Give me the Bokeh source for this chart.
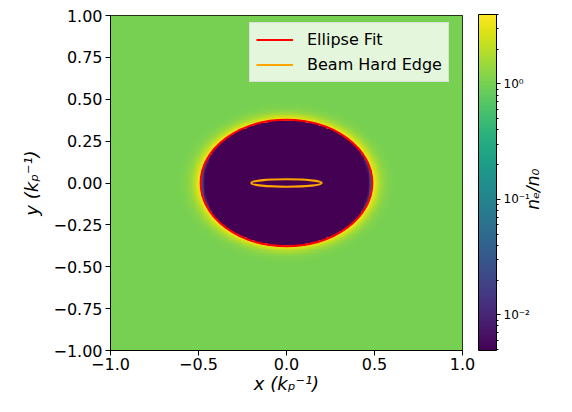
import math
import numpy as np
from bokeh.plotting import figure
from bokeh.models import (Range1d, LogColorMapper, ColorBar, FixedTicker,
                          CustomJSTickFormatter, Legend, LinearAxis)
from bokeh.palettes import Viridis256
from bokeh.embed import file_html
from bokeh.resources import INLINE

# ---------------- data ----------------
x_ticks = [-1.0, -0.5, 0.0, 0.5, 1.0]
y_ticks = [-1.0, -0.75, -0.5, -0.25, 0.0, 0.25, 0.5, 0.75, 1.0]
cbar_major = [0.01, 0.1, 1.0]
cbar_minor = [0.005, 0.006, 0.007, 0.008, 0.009,
              0.02, 0.03, 0.04, 0.05, 0.06, 0.07, 0.08, 0.09,
              0.2, 0.3, 0.4, 0.5, 0.6, 0.7, 0.8, 0.9,
              2.0, 3.0, 4.0]
density_low = 0.0049
density_high = 4.0
cbar_title = "n\u2091/n\u2080"

# ellipse fit of the blowout bubble
fit_cx, fit_cy = 0.0, 0.0
fit_semi_x = 0.488
fit_semi_y = 0.377
# beam hard edge
beam_semi_x = 0.2
beam_semi_y = 0.022

# density levels
n_cavity = 0.004
n_background = 1.0
n_sheath = 4.5
sheath_width = 0.055     # in normalised ellipse radius
tip_density = 0.08
tip_width = 0.012
grid_n = 220

# ---------------- density map ----------------
c = (np.arange(grid_n) + 0.5) / grid_n * 2 - 1
X, Y = np.meshgrid(c, c)
r = np.sqrt(((X - fit_cx) / fit_semi_x) ** 2 + ((Y - fit_cy) / fit_semi_y) ** 2)
theta = np.arctan2((Y - fit_cy) / fit_semi_y, (X - fit_cx) / fit_semi_x)
outside = n_background + (n_sheath - n_background) * np.exp(-(r - 1) / sheath_width)
inside = n_cavity + tip_density * np.exp(-(1 - r) / tip_width) * np.cos(theta) ** 16
dens = np.where(r >= 1, outside, inside)

FONT = "DejaVu Sans"

p = figure(width=556, height=396, x_range=Range1d(-1, 1), y_range=Range1d(-1, 1),
           output_backend="svg", toolbar_location=None,
           min_border_left=110, min_border_right=86, min_border_top=15, min_border_bottom=45)
p.grid.visible = False
p.outline_line_color = "black"
p.outline_line_width = 1
p.background_fill_color = "white"

mapper = LogColorMapper(palette=Viridis256, low=density_low, high=density_high)
p.image(image=[dens], x=-1, y=-1, dw=2, dh=2, color_mapper=mapper)

p.ellipse(x=[fit_cx], y=[fit_cy], width=[2 * fit_semi_x], height=[2 * fit_semi_y],
          fill_color=None, line_color="red", line_width=2)
p.ellipse(x=[fit_cx], y=[fit_cy], width=[2 * beam_semi_x], height=[2 * beam_semi_y],
          fill_color=None, line_color="orange", line_width=2)

r1 = p.line([np.nan], [np.nan], line_color="red", line_width=2)
r2 = p.line([np.nan], [np.nan], line_color="orange", line_width=2)
legend = Legend(items=[("Ellipse Fit", [r1]), ("Beam Hard Edge", [r2])],
                location=(139, 268), margin=0, padding=6, spacing=4,
                glyph_width=37, glyph_height=21, label_height=21, label_standoff=14,
                label_text_font=FONT, label_text_font_size="16px", label_text_color="black",
                background_fill_color="white", background_fill_alpha=0.8,
                border_line_color="#cccccc", border_line_width=1)
p.add_layout(legend)

fmt_code = """
const s = tick.toFixed(%d);
return s.replace("-", "\u2212");
"""
for ax, ticks, nd in ((p.xaxis, x_ticks, 1), (p.yaxis, y_ticks, 2)):
    ax.ticker = FixedTicker(ticks=ticks)
    ax.formatter = CustomJSTickFormatter(code=fmt_code % nd)
    ax.major_tick_in = 0
    ax.major_tick_out = 5
    ax.minor_tick_out = 0
    ax.minor_tick_in = 0
    ax.axis_line_color = "black"
    ax.major_tick_line_color = "black"
    ax.major_label_text_font = FONT
    ax.major_label_text_font_size = "16px"
    ax.major_label_text_color = "black"
    ax.major_label_standoff = 3
    ax.axis_label_text_font = FONT
    ax.axis_label_text_font_size = "18px"
    ax.axis_label_text_font_style = "italic"
    ax.axis_label_text_color = "black"

p.xaxis.axis_label = "x (k\u209a\u207b\u00b9)"
p.yaxis.axis_label = "y (k\u209a\u207b\u00b9)"
p.xaxis.major_label_standoff = 2
p.xaxis.axis_label_standoff = 0
p.yaxis.axis_label_standoff = 8

cb_code = """
const e = Math.round(Math.log10(tick));
const m = {"0": "\u2070", "1": "\u00b9", "2": "\u00b2", "3": "\u00b3", "-": "\u207b"};
return "10" + String(e).split("").map(ch => m[ch]).join("");
"""
cb = ColorBar(color_mapper=mapper,
              ticker=FixedTicker(ticks=cbar_major, minor_ticks=cbar_minor),
              formatter=CustomJSTickFormatter(code=cb_code),
              width=18, height=336, location=(16, 0), margin=0, padding=0,
              major_tick_in=0, major_tick_out=4, minor_tick_in=0, minor_tick_out=2,
              major_tick_line_color="black", minor_tick_line_color="black",
              bar_line_color="black", bar_line_width=1,
              major_label_text_font=FONT, major_label_text_font_size="12px",
              major_label_text_color="black", label_standoff=3,
              background_fill_color=None)
p.add_layout(cb, "right")

# colour-bar title carried by a bare right-hand axis (one tick label, rotated)
title_anchor = -0.16   # position along the frame where the rotated title sits
cb_axis = LinearAxis(ticker=FixedTicker(ticks=[title_anchor]),
                     formatter=CustomJSTickFormatter(code="return %r;" % cbar_title),
                     major_label_orientation=math.pi / 2,
                     axis_line_color=None, major_tick_line_color=None,
                     minor_tick_line_color=None, major_tick_in=0, major_tick_out=0,
                     minor_tick_in=0, minor_tick_out=0, major_label_standoff=1,
                     major_label_text_font=FONT, major_label_text_font_size="17px",
                     major_label_text_font_style="italic", major_label_text_color="black")
p.add_layout(cb_axis, "right")

open("out.html", "w").write(file_html(p, INLINE))
